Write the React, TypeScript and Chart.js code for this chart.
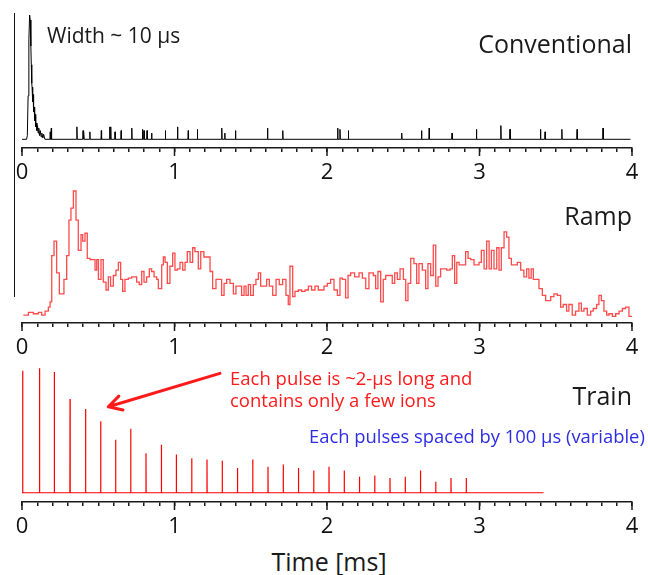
import React, { useEffect, useRef } from 'react';
import { Chart, registerables } from 'chart.js';

Chart.register(...registerables);

// ---------- axis ----------
const X_MIN = 0;
const X_MAX = 4;
const X_STEP = 0.1;
const MAJOR_TICKS = [0, 1, 2, 3, 4];

// ---------- Conventional (main burst + sparse single-ion spikes) ----------
const CONV_PEAK_T = [0, 0.03, 0.035, 0.04, 0.045, 0.05, 0.054, 0.058, 0.061, 0.064, 0.066, 0.07, 0.073, 0.076, 0.08, 0.083, 0.087, 0.09, 0.094, 0.098, 0.102, 0.106, 0.11, 0.115, 0.12, 0.125, 0.13, 0.137, 0.142, 0.15];
const CONV_PEAK_Y = [0, 0, 3, 35, 80, 100, 96, 75, 60, 45, 42, 30, 36, 22, 26, 15, 20, 10, 13, 7, 11, 5, 9, 3, 7, 2, 5, 1, 4, 0];
const CONV_SPIKE_T = [0.185, 0.192, 0.36, 0.4, 0.406, 0.445, 0.52, 0.575, 0.582, 0.61, 0.65, 0.72, 0.79, 0.8, 0.82, 0.85, 0.94, 1.02, 1.09, 1.15, 1.31, 1.33, 1.4, 1.61, 1.71, 2.07, 2.085, 2.14, 2.49, 2.62, 2.67, 2.82, 2.98, 3.14, 3.2, 3.4, 3.43, 3.54, 3.64, 3.81];
const CONV_SPIKE_Y = [6, 9, 10, 7, 6, 6, 7, 10, 10, 6, 7, 9, 8, 7, 7, 5, 7, 10, 7, 8, 9, 5, 7, 9, 7, 9, 8, 7, 5, 7, 9, 5, 8, 11, 8, 8, 6, 8, 8, 9];
const CONV_END = 3.99;

// ---------- Ramp (histogram, bin start times) ----------
const RAMP_T = [0.009, 0.042, 0.074, 0.107, 0.129, 0.151, 0.173, 0.184, 0.195, 0.21, 0.227, 0.245, 0.275, 0.293, 0.308, 0.321, 0.337, 0.354, 0.369, 0.387, 0.398, 0.413, 0.428, 0.446, 0.479, 0.49, 0.501, 0.518, 0.533, 0.551, 0.566, 0.581, 0.599, 0.616, 0.632, 0.647, 0.66, 0.675, 0.697, 0.719, 0.752, 0.769, 0.785, 0.8, 0.817, 0.835, 0.85, 0.866, 0.883, 0.894, 0.916, 0.927, 0.938, 0.953, 0.97, 0.988, 1.003, 1.019, 1.036, 1.054, 1.069, 1.084, 1.102, 1.119, 1.134, 1.156, 1.172, 1.193, 1.233, 1.25, 1.272, 1.309, 1.325, 1.342, 1.364, 1.386, 1.403, 1.44, 1.456, 1.469, 1.484, 1.499, 1.517, 1.534, 1.55, 1.565, 1.604, 1.622, 1.644, 1.666, 1.687, 1.709, 1.731, 1.746, 1.757, 1.775, 1.79, 1.812, 1.834, 1.856, 1.878, 1.899, 1.921, 1.943, 1.98, 2.002, 2.024, 2.046, 2.068, 2.085, 2.101, 2.122, 2.138, 2.155, 2.181, 2.21, 2.232, 2.254, 2.275, 2.304, 2.319, 2.334, 2.352, 2.369, 2.385, 2.428, 2.444, 2.461, 2.479, 2.501, 2.516, 2.531, 2.549, 2.57, 2.588, 2.603, 2.625, 2.647, 2.662, 2.68, 2.697, 2.713, 2.728, 2.745, 2.785, 2.807, 2.822, 2.837, 2.851, 2.866, 2.909, 2.925, 2.942, 2.964, 2.997, 3.012, 3.03, 3.047, 3.063, 3.078, 3.095, 3.113, 3.128, 3.143, 3.161, 3.178, 3.193, 3.209, 3.248, 3.27, 3.291, 3.309, 3.324, 3.339, 3.353, 3.39, 3.412, 3.434, 3.467, 3.488, 3.51, 3.532, 3.549, 3.571, 3.586, 3.608, 3.63, 3.652, 3.668, 3.685, 3.707, 3.729, 3.746, 3.768, 3.783, 3.799, 3.816, 3.834, 3.849, 3.871, 3.893, 3.915, 3.937, 3.958, 3.98, 4.0];
const RAMP_Y = [6, 8, 7, 8, 6, 9, 12, 16, 51, 62, 38, 22, 33, 51, 78, 87, 100, 78, 55, 67, 62, 68, 49, 48, 40, 48, 33, 48, 31, 25, 35, 28, 36, 40, 46, 33, 24, 33, 34, 35, 31, 29, 39, 31, 35, 41, 39, 35, 33, 26, 44, 50, 46, 30, 43, 53, 40, 41, 46, 40, 46, 54, 46, 57, 54, 41, 54, 50, 39, 26, 33, 21, 30, 33, 30, 22, 28, 21, 28, 21, 29, 21, 29, 33, 38, 28, 33, 28, 21, 33, 29, 33, 21, 14, 43, 20, 24, 25, 24, 25, 28, 25, 28, 25, 28, 30, 33, 25, 21, 34, 33, 19, 36, 38, 35, 38, 34, 26, 38, 36, 26, 39, 16, 33, 36, 30, 38, 33, 41, 33, 17, 30, 49, 45, 30, 45, 40, 26, 45, 36, 59, 28, 35, 41, 40, 41, 51, 30, 46, 44, 54, 49, 48, 44, 46, 55, 41, 62, 41, 55, 41, 57, 40, 57, 69, 65, 49, 44, 46, 40, 35, 41, 34, 41, 33, 26, 21, 17, 20, 22, 21, 12, 14, 9, 14, 6, 9, 15, 9, 11, 6, 9, 11, 14, 21, 17, 9, 6, 7, 5, 7, 9, 11, 12, 5, 5];

// ---------- Train (pulses every ~100 us) ----------
const TRAIN_T = [0.005, 0.115, 0.212, 0.315, 0.417, 0.516, 0.614, 0.713, 0.813, 0.914, 1.012, 1.113, 1.213, 1.313, 1.413, 1.513, 1.613, 1.713, 1.813, 1.913, 2.013, 2.113, 2.213, 2.313, 2.413, 2.513, 2.613, 2.713, 2.813, 2.913];
const TRAIN_Y = [99, 101, 98, 76, 68, 58, 43, 52, 32, 39, 31, 28, 27, 26, 20, 27, 21, 23, 20, 18, 21, 18, 13, 14, 12, 13, 18, 9, 12, 12];
const TRAIN_END = 3.42;
const ARROW_FROM = [1.298, 96.8];
const ARROW_TO = [0.566, 69.7];

const FONT = "'Open Sans', 'Noto Sans', sans-serif";
const AXIS_COLOR = '#1a1a1a';

Chart.defaults.font.family = FONT;

type Pt = { x: number; y: number };

function buildConventional(): Pt[] {
  const pts: Pt[] = CONV_PEAK_T.map((t, i) => ({ x: t, y: CONV_PEAK_Y[i] }));
  CONV_SPIKE_T.forEach((t, i) => {
    pts.push({ x: t - 0.002, y: 0 });
    pts.push({ x: t, y: CONV_SPIKE_Y[i] });
    pts.push({ x: t + 0.002, y: 0 });
  });
  pts.push({ x: CONV_END, y: 0 });
  return pts;
}

function buildRamp(): Pt[] {
  return RAMP_T.map((t, i) => ({ x: t, y: RAMP_Y[i] }));
}

function buildTrain(): Pt[] {
  const pts: Pt[] = [{ x: 0, y: 0 }];
  TRAIN_T.forEach((t, i) => {
    pts.push({ x: Math.max(0, t - 0.001), y: 0 });
    pts.push({ x: t, y: TRAIN_Y[i] });
    pts.push({ x: t + 0.001, y: 0 });
  });
  pts.push({ x: TRAIN_END, y: 0 });
  return pts;
}

const majorTickPlugin = {
  id: 'majorTicks',
  afterDraw(chart: any) {
    const s = chart.scales.x;
    const ctx = chart.ctx;
    ctx.save();
    ctx.strokeStyle = AXIS_COLOR;
    ctx.lineWidth = 1.5;
    MAJOR_TICKS.forEach((v) => {
      const x = s.getPixelForValue(v);
      ctx.beginPath();
      ctx.moveTo(x, s.top);
      ctx.lineTo(x, s.top + 8);
      ctx.stroke();
    });
    ctx.restore();
  },
};

const arrowPlugin = {
  id: 'arrow',
  afterDatasetsDraw(chart: any) {
    const xs = chart.scales.x;
    const ys = chart.scales.y;
    const x1 = xs.getPixelForValue(ARROW_FROM[0]);
    const y1 = ys.getPixelForValue(ARROW_FROM[1]);
    const x2 = xs.getPixelForValue(ARROW_TO[0]);
    const y2 = ys.getPixelForValue(ARROW_TO[1]);
    const ctx = chart.ctx;
    const ang = Math.atan2(y2 - y1, x2 - x1);
    const L = 15;
    const spread = 0.5;
    ctx.save();
    ctx.strokeStyle = '#ff1a1a';
    ctx.lineWidth = 3;
    ctx.lineCap = 'round';
    ctx.lineJoin = 'round';
    ctx.beginPath();
    ctx.moveTo(x1, y1);
    ctx.lineTo(x2, y2);
    ctx.moveTo(x2 - L * Math.cos(ang - spread), y2 - L * Math.sin(ang - spread));
    ctx.lineTo(x2, y2);
    ctx.lineTo(x2 - L * Math.cos(ang + spread), y2 - L * Math.sin(ang + spread));
    ctx.stroke();
    ctx.restore();
  },
};

type PanelProps = {
  top: number;
  height: number;
  areaTop: number;
  areaBottom: number;
  yMin: number;
  yMax: number;
  data: Pt[];
  color: string;
  lineWidth: number;
  stepped?: boolean;
  extra?: any[];
};

function Panel(props: PanelProps) {
  const ref = useRef<HTMLCanvasElement | null>(null);
  useEffect(() => {
    if (!ref.current) return;
    const { height, areaTop, areaBottom } = props;
    const chart = new Chart(ref.current, {
      type: 'line',
      data: {
        datasets: [
          {
            data: props.data,
            borderColor: props.color,
            borderWidth: props.lineWidth,
            pointRadius: 0,
            fill: false,
            tension: 0,
            stepped: props.stepped ? 'before' : false,
          } as any,
        ],
      },
      options: {
        animation: false,
        responsive: false,
        maintainAspectRatio: false,
        parsing: false,
        normalized: true,
        layout: { padding: { top: areaTop, left: 22, right: 16, bottom: 0 } },
        plugins: { legend: { display: false }, tooltip: { enabled: false }, title: { display: false } },
        scales: {
          x: {
            type: 'linear',
            min: X_MIN,
            max: X_MAX,
            grid: { drawOnChartArea: false, drawTicks: true, tickLength: 4, color: AXIS_COLOR, lineWidth: 1.5 },
            border: { display: true, color: AXIS_COLOR, width: 1.5 },
            ticks: {
              stepSize: X_STEP,
              autoSkip: false,
              maxRotation: 0,
              minRotation: 0,
              padding: 8,
              color: '#111',
              font: { size: 22, family: FONT },
              callback: (v: any) => {
                const n = Number(v);
                const r = Math.round(n);
                return Math.abs(n - r) < 1e-6 ? String(r) : '';
              },
            },
            afterFit: (axis: any) => {
              axis.height = height - areaBottom;
            },
          },
          y: {
            type: 'linear',
            display: false,
            min: props.yMin,
            max: props.yMax,
          },
        },
      },
      plugins: [majorTickPlugin, ...(props.extra || [])],
    } as any);
    return () => chart.destroy();
  }, []);
  return (
    <canvas
      ref={ref}
      width={648}
      height={props.height}
      style={{ position: 'absolute', left: 0, top: props.top, width: 648, height: props.height }}
    />
  );
}

const txt = (extra: React.CSSProperties): React.CSSProperties => ({
  position: 'absolute',
  fontFamily: FONT,
  lineHeight: 1,
  whiteSpace: 'nowrap',
  color: '#1a1a1a',
  ...extra,
});

export default function App() {
  return (
    <div style={{ position: 'fixed', left: 0, top: 0, width: 648, height: 575, background: '#fff', overflow: 'hidden' }}>
      <Panel top={0} height={190} areaTop={13} areaBottom={148} yMin={-7} yMax={101.6} data={buildConventional()} color="#000" lineWidth={1} />
      <Panel top={180} height={180} areaTop={4} areaBottom={143} yMin={0} yMax={105.3} data={buildRamp()} color="rgba(255,55,55,0.9)" lineWidth={1.3} stepped />
      <Panel top={360} height={175} areaTop={5} areaBottom={142} yMin={-7.5} yMax={103.6} data={buildTrain()} color="#ff0000" lineWidth={1.2} extra={[arrowPlugin]} />

      <div style={{ position: 'absolute', left: 14, top: 13, width: 1, height: 284, background: '#111' }} />

      <div style={txt({ left: 47, top: 25, fontSize: 21 })}>Width ~ 10 μs</div>
      <div style={txt({ right: 16, top: 30.5, fontSize: 25 })}>Conventional</div>
      <div style={txt({ right: 16, top: 203, fontSize: 25 })}>Ramp</div>
      <div style={txt({ right: 16, top: 383, fontSize: 25 })}>Train</div>
      <div style={txt({ left: 230, top: 367, fontSize: 18.5, lineHeight: '22px', color: '#ff1a1a' })}>
        Each pulse is ~2-μs long and
        <br />
        contains only a few ions
      </div>
      <div style={txt({ left: 309, top: 426.5, fontSize: 18.4, color: '#2d2de6' })}>Each pulses spaced by 100 μs (variable)</div>
      <div style={txt({ left: 329, top: 549, fontSize: 25, transform: 'translateX(-50%)' })}>Time [ms]</div>
    </div>
  );
}
